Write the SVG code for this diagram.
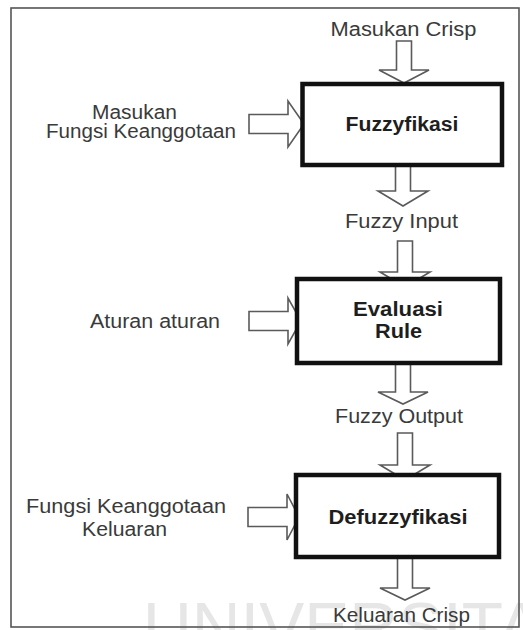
<svg xmlns="http://www.w3.org/2000/svg" width="523" height="630" viewBox="0 0 523 630">
<style>
.lbl{font-family:"Liberation Sans",Arial,sans-serif;font-size:20px;fill:#3a3a3a;text-anchor:middle}
.bl{font-family:"Liberation Sans",Arial,sans-serif;font-size:20px;font-weight:bold;fill:#1e1e1e;text-anchor:middle}
.box{fill:#ffffff;stroke:#111111;stroke-width:4.5}
.arr{fill:#ffffff;stroke:#5a5a5a;stroke-width:1.6;stroke-linejoin:miter}
.wm{font-family:"Liberation Sans",Arial,sans-serif;font-size:68px;fill:#e6e6e6}
</style>
<rect width="523" height="630" fill="#ffffff"/>
<text class="wm" x="143" y="650" textLength="400" lengthAdjust="spacingAndGlyphs">UNIVERSITA</text>
<rect x="11" y="8" width="508" height="619" fill="none" stroke="#555555" stroke-width="1.6"/>
<g id="connectors">
<polygon class="arr" points="396.5,41 411.5,41 411.5,70 429,70 404,83 379,70 396.5,70"/>
<polygon class="arr" points="395.5,165 410.5,165 410.5,191 428,191 403,206 378,191 395.5,191"/>
<polygon class="arr" points="397.5,241 412.5,241 412.5,272 430,272 405,287 380,272 397.5,272"/>
<polygon class="arr" points="395.5,363 410.5,363 410.5,392 428,392 403,404 378,392 395.5,392"/>
<polygon class="arr" points="397.5,433 412.5,433 412.5,465 430,465 405,480 380,465 397.5,465"/>
<polygon class="arr" points="397.5,557 412.5,557 412.5,588 430,588 405,600 380,588 397.5,588"/>
<polygon class="arr" points="249,114.5 288,114.5 288,101 304,124 288,147 288,133.5 249,133.5"/>
<polygon class="arr" points="249,311.5 288,311.5 288,298 301,321 288,344 288,330.5 249,330.5"/>
<polygon class="arr" points="248,507.5 287,507.5 287,494 299,517 287,540 287,526.5 248,526.5"/>
</g>
<g id="fuzzyfikasi">
<rect class="box" x="302.5" y="84" width="199.5" height="81"/>
<text class="bl" x="402" y="131" textLength="113" lengthAdjust="spacingAndGlyphs">Fuzzyfikasi</text>
</g>
<g id="evaluasi-rule">
<rect class="box" x="297" y="279" width="203" height="84"/>
<text class="bl" x="398" y="316" textLength="90" lengthAdjust="spacingAndGlyphs">Evaluasi</text>
<text class="bl" x="398.5" y="338" textLength="47" lengthAdjust="spacingAndGlyphs">Rule</text>
</g>
<g id="defuzzyfikasi">
<rect class="box" x="296" y="475" width="203" height="82"/>
<text class="bl" x="398" y="524" textLength="139" lengthAdjust="spacingAndGlyphs">Defuzzyfikasi</text>
</g>
<g id="masukan-crisp">
<text class="lbl" x="403.5" y="36" textLength="146" lengthAdjust="spacingAndGlyphs">Masukan Crisp</text>
</g>
<g id="fuzzy-input">
<text class="lbl" x="401.5" y="228" textLength="113" lengthAdjust="spacingAndGlyphs">Fuzzy Input</text>
</g>
<g id="fuzzy-output">
<text class="lbl" x="399" y="423" textLength="128" lengthAdjust="spacingAndGlyphs">Fuzzy Output</text>
</g>
<g id="keluaran-crisp">
<text class="lbl" x="401.5" y="622" textLength="137" lengthAdjust="spacingAndGlyphs">Keluaran Crisp</text>
</g>
<g id="masukan-fungsi">
<text class="lbl" x="134.5" y="119" textLength="85" lengthAdjust="spacingAndGlyphs">Masukan</text>
<text class="lbl" x="141" y="138" textLength="190" lengthAdjust="spacingAndGlyphs">Fungsi Keanggotaan</text>
</g>
<g id="aturan">
<text class="lbl" x="155" y="328" textLength="130" lengthAdjust="spacingAndGlyphs">Aturan aturan</text>
</g>
<g id="fungsi-keluaran">
<text class="lbl" x="126" y="513" textLength="200" lengthAdjust="spacingAndGlyphs">Fungsi Keanggotaan</text>
<text class="lbl" x="124.5" y="536" textLength="85" lengthAdjust="spacingAndGlyphs">Keluaran</text>
</g>
</svg>
